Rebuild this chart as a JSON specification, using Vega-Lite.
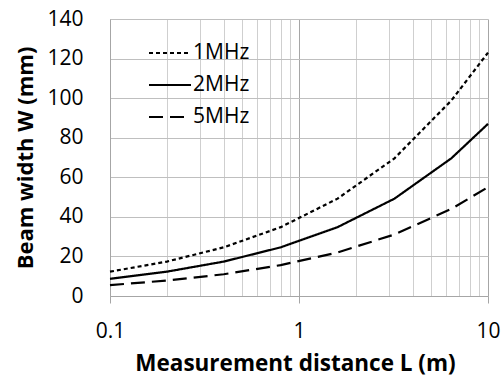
{
  "$schema": "https://vega.github.io/schema/vega-lite/v6.json",
  "width": 378,
  "height": 277,
  "autosize": "none",
  "padding": {"left": 110, "top": 19, "right": 14, "bottom": 80},
  "config": {
    "view": {"stroke": null},
    "font": "Open Sans"
  },
  "data": {
    "values": [
      {"L": 0.1, "W": 12.3, "series": "1MHz"},
      {"L": 0.2, "W": 17.4, "series": "1MHz"},
      {"L": 0.4, "W": 24.6, "series": "1MHz"},
      {"L": 0.8, "W": 34.8, "series": "1MHz"},
      {"L": 1.6, "W": 49.2, "series": "1MHz"},
      {"L": 3.2, "W": 69.6, "series": "1MHz"},
      {"L": 6.4, "W": 98.8, "series": "1MHz"},
      {"L": 10, "W": 123, "series": "1MHz"},
      {"L": 0.1, "W": 8.7, "series": "2MHz"},
      {"L": 0.2, "W": 12.3, "series": "2MHz"},
      {"L": 0.4, "W": 17.4, "series": "2MHz"},
      {"L": 0.8, "W": 24.6, "series": "2MHz"},
      {"L": 1.6, "W": 34.8, "series": "2MHz"},
      {"L": 3.2, "W": 49.2, "series": "2MHz"},
      {"L": 6.4, "W": 69.6, "series": "2MHz"},
      {"L": 10, "W": 87, "series": "2MHz"},
      {"L": 0.1, "W": 5.5, "series": "5MHz"},
      {"L": 0.2, "W": 7.8, "series": "5MHz"},
      {"L": 0.4, "W": 11, "series": "5MHz"},
      {"L": 0.8, "W": 15.6, "series": "5MHz"},
      {"L": 1.6, "W": 22, "series": "5MHz"},
      {"L": 3.2, "W": 31.1, "series": "5MHz"},
      {"L": 6.4, "W": 44, "series": "5MHz"},
      {"L": 10, "W": 55, "series": "5MHz"}
    ]
  },
  "mark": {"type": "line", "color": "black", "strokeWidth": 2.2},
  "encoding": {
    "x": {
      "field": "L",
      "type": "quantitative",
      "scale": {"type": "log", "domain": [0.1, 10], "nice": false},
      "axis": {
        "title": "Measurement distance L (m)",
        "titleFontSize": 22.5,
        "titleFontWeight": "bold",
        "titleColor": "black",
        "titleBaseline": "alphabetic",
        "titleY": 74,
        "titleX": 185,
        "values": [0.1, 0.2, 0.3, 0.4, 0.5, 0.6, 0.7, 0.8, 0.9, 1, 2, 3, 4, 5, 6, 7, 8, 9, 10],
        "labelExpr": "indexof([0.1,1,10], datum.value) >= 0 ? datum.value : ''",
        "labelOverlap": false,
        "labelFlush": false,
        "labelFontSize": 21,
        "labelColor": "black",
        "labelPadding": 17,
        "tickSize": 7,
        "tickColor": "#a6a6a6",
        "tickOpacity": {"condition": {"test": "indexof([0.1,1,10], datum.value) >= 0", "value": 1}, "value": 0},
        "domainColor": "#a6a6a6",
        "grid": true,
        "gridColor": {"condition": {"test": "indexof([0.1,1,10], datum.value) >= 0", "value": "#a6a6a6"}, "value": "#cfcfcf"}
      }
    },
    "y": {
      "field": "W",
      "type": "quantitative",
      "scale": {"domain": [0, 140], "nice": false},
      "axis": {
        "title": "Beam width W (mm)",
        "titleFontSize": 22,
        "titleFontWeight": "bold",
        "titleColor": "black",
        "titleBaseline": "alphabetic",
        "titleX": -78,
        "values": [0, 20, 40, 60, 80, 100, 120, 140],
        "labelFontSize": 21,
        "labelColor": "black",
        "labelPadding": 27,
        "ticks": false,
        "domainColor": "#a6a6a6",
        "grid": true,
        "gridColor": "#bfbfbf"
      }
    },
    "strokeDash": {
      "field": "series",
      "type": "nominal",
      "scale": {"domain": ["1MHz", "2MHz", "5MHz"], "range": [[4, 3], [1, 0], [14, 7]]},
      "legend": {
        "title": null,
        "orient": "none",
        "legendX": 38,
        "legendY": 12,
        "symbolType": "stroke",
        "symbolSize": 1764,
        "symbolStrokeWidth": 2,
        "symbolStrokeColor": "black",
        "labelFontSize": 21,
        "labelColor": "black",
        "labelOffset": 1,
        "rowPadding": -2
      }
    }
  }
}
